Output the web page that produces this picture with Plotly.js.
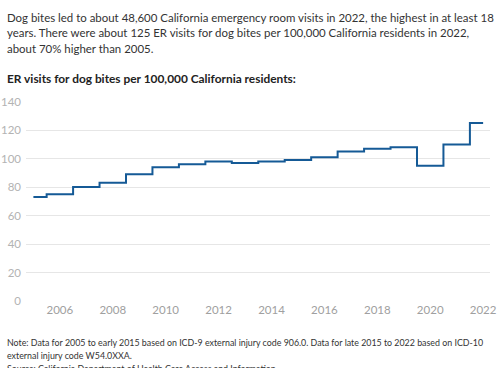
<!DOCTYPE html>
<html>
<head>
<meta charset="utf-8">
<script src="https://cdn.plot.ly/plotly-3.0.1.min.js"></script>
<style>html,body{margin:0;padding:0;background:#fff;}#chart{width:500px;height:368px;}</style>
</head>
<body>
<div id="chart"></div>
<script>
const years = [2005,2006,2007,2008,2009,2010,2011,2012,2013,2014,2015,2016,2017,2018,2019,2020,2021,2022];
const visitsPer100k = [73,75,80,83,89,94,96,98,97,98,99,101,105,107,108,95,110,125];
const xTickVals = [2006,2008,2010,2012,2014,2016,2018,2020,2022];
const yTickVals = [0,20,40,60,80,100,120,140];
const introLines = [
  "Dog bites led to about 48,600 California emergency room visits in 2022, the highest in at least 18",
  "years. There were about 125 ER visits for dog bites per 100,000 California residents in 2022,",
  "about 70% higher than 2005."
];
const subtitle = "<b>ER visits for dog bites per 100,000 California residents:</b>";
const noteLines = [
  "Note: Data for 2005 to early 2015 based on ICD-9 external injury code 906.0. Data for late 2015 to 2022 based on ICD-10",
  "external injury code W54.0XXA.",
  "Source: California Department of Health Care Access and Information"
];

const FONT = "Lato, 'Open Sans', sans-serif";
const W = 500, H = 368, mL = 26, mR = 10, mT = 101, mB = 67;
const pw = W - mL - mR, ph = H - mT - mB;
const px = x => (x - mL) / pw;
const py = y => (H - mB - y) / ph;

const annotations = [];
const introY = [17, 33, 48];
introLines.forEach((t, i) => annotations.push({
  text: t, xref: 'paper', yref: 'paper', x: px(5), y: py(introY[i]),
  xanchor: 'left', yanchor: 'middle', showarrow: false,
  font: {family: FONT, size: 11.45, color: '#333'}
}));
annotations.push({
  text: subtitle, xref: 'paper', yref: 'paper', x: px(5), y: py(78),
  xanchor: 'left', yanchor: 'middle', showarrow: false,
  font: {family: FONT, size: 11.9, color: '#222'}
});
const noteY = [342, 355, 368];
noteLines.forEach((t, i) => annotations.push({
  text: t, xref: 'paper', yref: 'paper', x: px(5), y: py(noteY[i]),
  xanchor: 'left', yanchor: 'middle', showarrow: false,
  font: {family: FONT, size: 8.85, color: '#333'}
}));

Plotly.newPlot('chart', [{
  x: years, y: visitsPer100k, type: 'scatter', mode: 'lines',
  line: {shape: 'hvh', color: '#155a96', width: 2},
  hoverinfo: 'x+y'
}], {
  width: W, height: H,
  margin: {l: mL, r: mR, t: mT, b: mB, pad: 0},
  paper_bgcolor: '#fff', plot_bgcolor: '#fff',
  showlegend: false,
  font: {family: FONT, color: '#aaa', size: 12},
  xaxis: {
    range: [2004.72, 2022.26], tickvals: xTickVals, showgrid: false, zeroline: false,
    showline: false, ticks: '', tickfont: {family: FONT, size: 11.5, color: '#a0a0a0'}
  },
  yaxis: {
    range: [0, 140.5], tickvals: yTickVals, showgrid: true, gridcolor: '#e6e6e6',
    gridwidth: 1, zeroline: false, showline: false, ticks: '', ticklabelstandoff: 4,
    tickfont: {family: FONT, size: 11.5, color: '#b3b3b3'}
  },
  annotations: annotations
}, {displayModeBar: false, staticPlot: true});
</script>
</body>
</html>
